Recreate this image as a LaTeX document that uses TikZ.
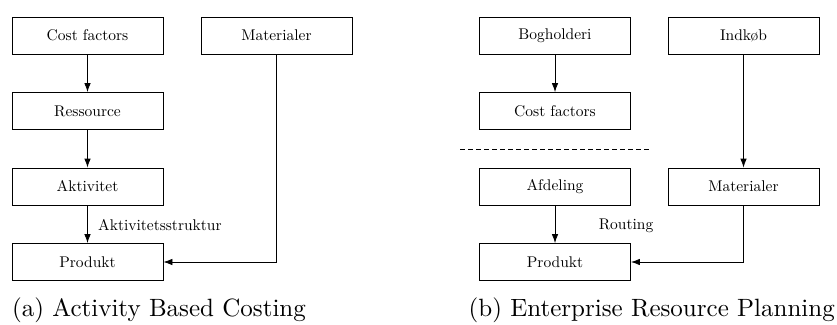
\documentclass[tikz,border=0pt]{standalone}
\usetikzlibrary{arrows.meta}
\newcommand{\boxtxt}[1]{\scalebox{1.55}{\normalsize #1}}
\newcommand{\captxt}[1]{\scalebox{2.5}{\normalsize #1}}
\begin{document}
\begin{tikzpicture}[x=1pt,y=-1pt,
  box/.style={draw, line width=0.8pt, minimum width=151pt, minimum height=37pt, inner sep=0pt},
  arr/.style={-{Latex[length=9pt,width=6.5pt]}, line width=0.8pt},
  lbl/.style={inner sep=0pt},
  captext/.style={inner sep=0pt}]
\useasboundingbox (0,0) rectangle (837,324);
% (a)
\node[box] (cf) at (87.5,35.5) {\boxtxt{Cost factors}};
\node[box] (matA) at (276.5,35.5) {\boxtxt{Materialer}};
\node[box] (res) at (87.5,111) {\boxtxt{Ressource}};
\node[box] (akt) at (87.5,186.5) {\boxtxt{Aktivitet}};
\node[box] (prodA) at (87.5,262) {\boxtxt{Produkt}};
\draw[arr] (cf) -- (res);
\draw[arr] (res) -- (akt);
\draw[arr] (akt) -- (prodA);
\node[lbl, anchor=west] (lA) at (98,225) {\boxtxt{Aktivitetsstruktur}};
\draw[arr] (matA.south) |- (prodA.east);
\node[captext, anchor=base west] (capA) at (12,316) {\captxt{(a) Activity Based Costing}};
% (b)
\node[box] (bog) at (555,35.5) {\boxtxt{Bogholderi}};
\node[box] (ind) at (743.5,35.5) {\boxtxt{Indkøb}};
\node[box] (cfB) at (555,111) {\boxtxt{Cost factors}};
\node[box] (afd) at (555,186.5) {\boxtxt{Afdeling}};
\node[box] (matB) at (743.5,186.5) {\boxtxt{Materialer}};
\node[box] (prodB) at (555,262) {\boxtxt{Produkt}};
\draw[arr] (bog) -- (cfB);
\draw[arr] (ind) -- (matB);
\draw[arr] (afd) -- (prodB);
\draw[arr] (matB.south) |- (prodB.east);
\coordinate (d1) at (460,149);
\coordinate (d2) at (650,149);
\draw[line width=0.8pt, dash pattern=on 5pt off 3pt] (d1) -- (d2);
\node[lbl] (lB) at (626,226) {\boxtxt{Routing}};
\node[captext, anchor=base east] (capB) at (835,316) {\captxt{(b) Enterprise Resource Planning}};
\end{tikzpicture}
\end{document}
